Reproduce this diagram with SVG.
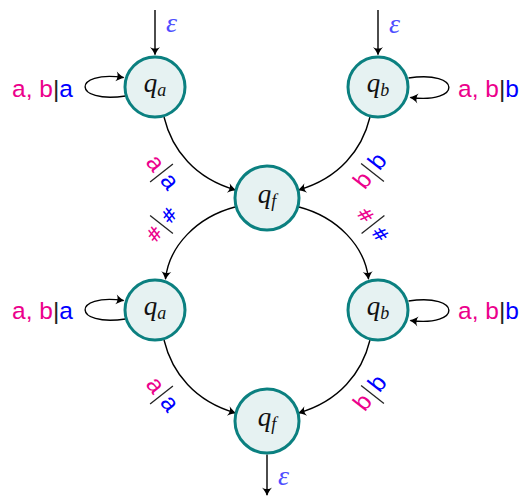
<svg xmlns="http://www.w3.org/2000/svg" width="522" height="498" viewBox="0 0 522 498">
<defs>
<marker id="arr" viewBox="-9 -6 11 12" markerWidth="11" markerHeight="12" refX="0" refY="0" orient="auto" markerUnits="userSpaceOnUse">
<path d="M 1 0 C -2 -1, -5 -3, -7.5 -5 C -5.5 -2, -5.5 2, -7.5 5 C -5 3, -2 1, 1 0 Z" fill="#000"/>
</marker>
</defs>
<style>
.node circle{fill:#e6f2f2;stroke:#0b8080;stroke-width:3}
.q{font-family:"Liberation Serif",serif;font-style:italic;font-size:27px;fill:#111}
.sub{font-size:18px}
.edge{fill:none;stroke:#000;stroke-width:1.4;marker-end:url(#arr)}
.lbl{font-family:"Liberation Sans",sans-serif;font-size:24.5px}
.sym{font-family:"DejaVu Sans",sans-serif;font-size:19px}
.m{fill:#ec008c}
.b{fill:#0000ff}
.k{fill:#222}
.eps{font-family:"Liberation Serif",serif;font-style:italic;font-size:28px;fill:#4d4dff}
.rule{stroke:#222;stroke-width:1.3}
</style>

<g id="connectors">
  <path class="edge" d="M 155 10 L 155 54.5"/>
  <path class="edge" d="M 378 10 L 378 54.5"/>
  <path class="edge" d="M 267 454.5 L 267 495"/>
  <text class="eps" x="166" y="32">ε</text>
  <text class="eps" x="389" y="33">ε</text>
  <text class="eps" x="278" y="485">ε</text>

  <path class="edge" d="M 125.5 96 C 72 104, 72 70, 123.5 77.5"/>
  <path class="edge" d="M 408.5 78 C 462 70, 462 104, 410.5 97.5"/>
  <path class="edge" d="M 125.5 319 C 72 327, 72 293, 123.5 300.5"/>
  <path class="edge" d="M 408.5 301 C 462 293, 462 327, 410.5 320.5"/>
  <text class="lbl" x="12" y="97"><tspan class="m">a, b</tspan><tspan class="k">|</tspan><tspan class="b">a</tspan></text>
  <text class="lbl" x="458" y="97"><tspan class="m">a, b</tspan><tspan class="k">|</tspan><tspan class="b">b</tspan></text>
  <text class="lbl" x="12" y="319"><tspan class="m">a, b</tspan><tspan class="k">|</tspan><tspan class="b">a</tspan></text>
  <text class="lbl" x="458" y="319"><tspan class="m">a, b</tspan><tspan class="k">|</tspan><tspan class="b">b</tspan></text>

  <path class="edge" d="M 164 117 C 172 150, 195 178.5, 235.5 190"/>
  <path class="edge" d="M 370 117 C 362 150, 339 178.5, 298.5 190"/>
  <path class="edge" d="M 235 207 C 197 217, 169 246, 165.5 279"/>
  <path class="edge" d="M 299 207 C 337 217, 365 246, 368.5 279"/>
  <path class="edge" d="M 164 340 C 172 373, 195 401.5, 235.5 413"/>
  <path class="edge" d="M 370 340 C 362 373, 339 401.5, 298.5 413"/>

  <g transform="translate(161.5,173) rotate(52)">
    <text class="lbl m" x="-11.5" y="6.5" text-anchor="middle">a</text>
    <line class="rule" x1="0" y1="-14.5" x2="0" y2="14.5"/>
    <text class="lbl b" x="11.5" y="6.5" text-anchor="middle">a</text>
  </g>
  <g transform="translate(372.5,172.5) rotate(-52)">
    <text class="lbl m" x="-12" y="5" text-anchor="middle">b</text>
    <line class="rule" x1="0" y1="-14.5" x2="0" y2="14.5"/>
    <text class="lbl b" x="12" y="5" text-anchor="middle">b</text>
  </g>
  <g transform="translate(161.5,224.5) rotate(-52)">
    <text class="sym m" x="-12" y="7" text-anchor="middle">#</text>
    <line class="rule" x1="0" y1="-14.5" x2="0" y2="14.5"/>
    <text class="sym b" x="12" y="7" text-anchor="middle">#</text>
  </g>
  <g transform="translate(373,224.5) rotate(52)">
    <text class="sym m" x="-12" y="7" text-anchor="middle">#</text>
    <line class="rule" x1="0" y1="-14.5" x2="0" y2="14.5"/>
    <text class="sym b" x="12" y="7" text-anchor="middle">#</text>
  </g>
  <g transform="translate(161.5,395) rotate(52)">
    <text class="lbl m" x="-11.5" y="6.5" text-anchor="middle">a</text>
    <line class="rule" x1="0" y1="-14.5" x2="0" y2="14.5"/>
    <text class="lbl b" x="11.5" y="6.5" text-anchor="middle">a</text>
  </g>
  <g transform="translate(372.5,394.5) rotate(-52)">
    <text class="lbl m" x="-12" y="5" text-anchor="middle">b</text>
    <line class="rule" x1="0" y1="-14.5" x2="0" y2="14.5"/>
    <text class="lbl b" x="12" y="5" text-anchor="middle">b</text>
  </g>
</g>

<g id="qa1" class="node"><circle cx="155" cy="87" r="30"/><text class="q" x="155" y="92" text-anchor="middle">q<tspan class="sub" dy="4">a</tspan></text></g>
<g id="qb1" class="node"><circle cx="378" cy="87" r="30"/><text class="q" x="378" y="92" text-anchor="middle">q<tspan class="sub" dy="4">b</tspan></text></g>
<g id="qf1" class="node"><circle cx="267" cy="198" r="32"/><text class="q" x="267" y="203" text-anchor="middle">q<tspan class="sub" dy="4">f</tspan></text></g>
<g id="qa2" class="node"><circle cx="155" cy="310" r="30"/><text class="q" x="155" y="315" text-anchor="middle">q<tspan class="sub" dy="4">a</tspan></text></g>
<g id="qb2" class="node"><circle cx="378" cy="310" r="30"/><text class="q" x="378" y="315" text-anchor="middle">q<tspan class="sub" dy="4">b</tspan></text></g>
<g id="qf2" class="node"><circle cx="267" cy="421" r="32"/><text class="q" x="267" y="426" text-anchor="middle">q<tspan class="sub" dy="4">f</tspan></text></g>
</svg>
